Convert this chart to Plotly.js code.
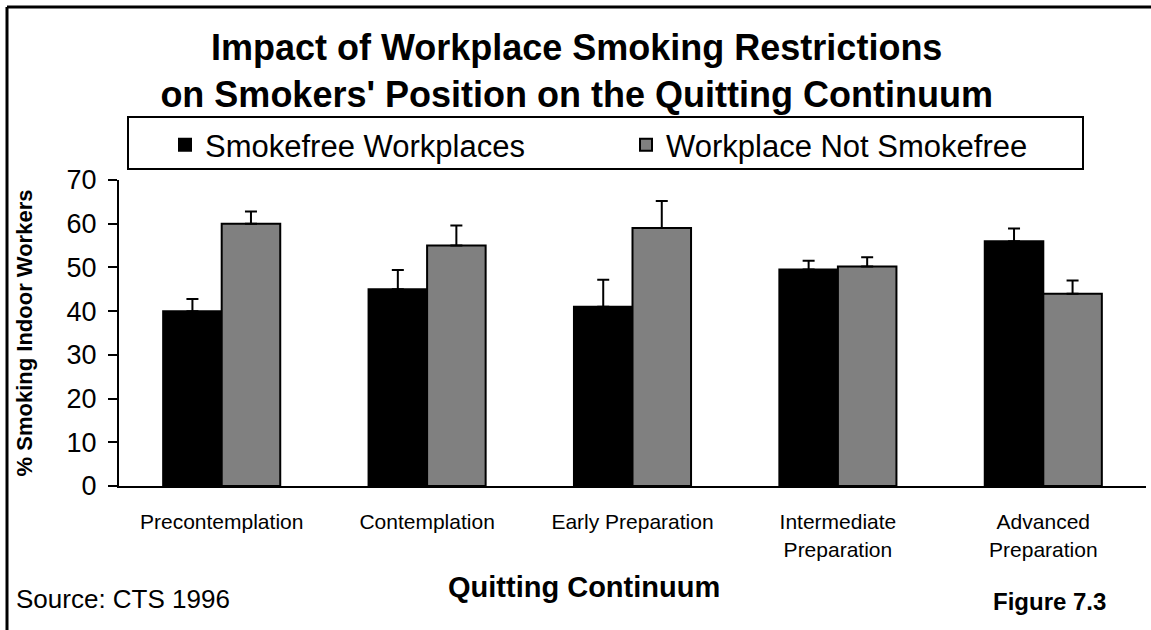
<!DOCTYPE html>
<html>
<head>
<meta charset="utf-8">
<script src="https://cdn.plot.ly/plotly-3.0.1.min.js"></script>
<style>html,body{margin:0;padding:0;background:#fff;}#chart{width:1151px;height:630px;}</style>
</head>
<body>
<div id="chart"></div>
<script>
// ---- data ----
const categories = ['Precontemplation', 'Contemplation', 'Early Preparation', 'Intermediate<br>Preparation', 'Advanced<br>Preparation'];
const seriesNames = ['Smokefree Workplaces', 'Workplace Not Smokefree'];
const smokefreeValues = [40, 45, 41, 49.5, 56];
const smokefreeErrors = [2.8, 4.4, 6.2, 2.0, 2.9];
const notSmokefreeValues = [60, 55, 59, 50.2, 44];
const notSmokefreeErrors = [2.8, 4.6, 6.2, 2.1, 3.0];
const yTickValues = [0, 10, 20, 30, 40, 50, 60, 70];

// ---- pixel helpers (plot area: x 119..1146, y 180..486) ----
const L = 119, R = 1146, T = 180, B = 486;
const px = x => (x - L) / (R - L);
const py = y => (B - y) / (B - T);

const FONT = 'Liberation Sans, Arial, sans-serif';
const zeros = categories.map(() => 0);

const traces = [
  {
    type: 'bar', name: seriesNames[0], x: categories, y: smokefreeValues,
    marker: {color: '#000000', line: {color: '#000000', width: 2}},
    error_y: {type: 'data', array: smokefreeErrors, arrayminus: zeros, symmetric: false, color: '#000000', thickness: 2, width: 6},
    hoverinfo: 'x+y'
  },
  {
    type: 'bar', name: seriesNames[1], x: categories, y: notSmokefreeValues,
    marker: {color: '#808080', line: {color: '#000000', width: 2}},
    error_y: {type: 'data', array: notSmokefreeErrors, arrayminus: zeros, symmetric: false, color: '#000000', thickness: 2, width: 6},
    hoverinfo: 'x+y'
  }
];

const layout = {
  width: 1151, height: 630,
  margin: {l: L, r: 1151 - R, t: T, b: 630 - B, pad: 0},
  paper_bgcolor: '#ffffff', plot_bgcolor: '#ffffff',
  font: {family: FONT, color: '#000000'},
  barmode: 'group', bargap: 0.43, bargroupgap: 0,
  title: {
    text: '<b>Impact of Workplace Smoking Restrictions<br>on Smokers\' Position on the Quitting Continuum</b>',
    font: {family: FONT, size: 36, color: '#000000'},
    xref: 'container', x: 0.501, xanchor: 'center',
    yref: 'container', y: 1 - 60 / 630, yanchor: 'top'
  },
  showlegend: true,
  legend: {
    orientation: 'h', xref: 'container', yref: 'container',
    x: 165 / 1151, xanchor: 'left', y: 1 - 118 / 630, yanchor: 'top',
    font: {family: FONT, size: 31, color: '#000000'},
    bgcolor: 'rgba(0,0,0,0)', borderwidth: 0,
    entrywidth: 416, entrywidthmode: 'pixels', traceorder: 'normal'
  },
  xaxis: {
    type: 'category', range: [-0.5, 4.5],
    showline: true, linecolor: '#000000', linewidth: 2, mirror: false,
    ticks: '', showgrid: false, zeroline: false,
    tickfont: {family: FONT, size: 21, color: '#000000'},
    ticklabelstandoff: 16
  },
  yaxis: {
    range: [0, 70], tickvals: yTickValues, ticktext: yTickValues.map(String),
    showline: true, linecolor: '#000000', linewidth: 2,
    ticks: 'outside', ticklen: 9, tickwidth: 2, tickcolor: '#000000',
    showgrid: false, zeroline: false,
    tickfont: {family: FONT, size: 27, color: '#000000'},
    ticklabelstandoff: 6,
    title: {text: '<b>% Smoking Indoor Workers</b>', font: {family: FONT, size: 22, color: '#000000'}, standoff: 28}
  },
  shapes: [
    // legend frame
    {type: 'rect', xref: 'paper', yref: 'paper', x0: px(128), x1: px(1083), y0: py(169), y1: py(117),
     line: {color: '#000000', width: 2}, fillcolor: 'rgba(0,0,0,0)', layer: 'below'},
    // outer frame: top and left edges
    {type: 'line', xref: 'paper', yref: 'paper', x0: px(7), x1: px(1151), y0: py(7), y1: py(7), line: {color: '#000000', width: 3}},
    {type: 'line', xref: 'paper', yref: 'paper', x0: px(7), x1: px(7), y0: py(7), y1: py(630), line: {color: '#000000', width: 3}}
  ],
  annotations: [
    {text: '<b>Quitting Continuum</b>', xref: 'paper', yref: 'paper', x: px(584), y: py(587),
     xanchor: 'center', yanchor: 'middle', showarrow: false, font: {family: FONT, size: 29, color: '#000000'}},
    {text: 'Source: CTS 1996', xref: 'paper', yref: 'paper', x: px(14), y: py(599),
     xanchor: 'left', yanchor: 'middle', showarrow: false, font: {family: FONT, size: 26, color: '#000000'}},
    {text: '<b>Figure 7.3</b>', xref: 'paper', yref: 'paper', x: px(1108), y: py(601),
     xanchor: 'right', yanchor: 'middle', showarrow: false, font: {family: FONT, size: 24, color: '#000000'}}
  ]
};

Plotly.newPlot('chart', traces, layout, {displayModeBar: false, staticPlot: false, responsive: false});
</script>
</body>
</html>
